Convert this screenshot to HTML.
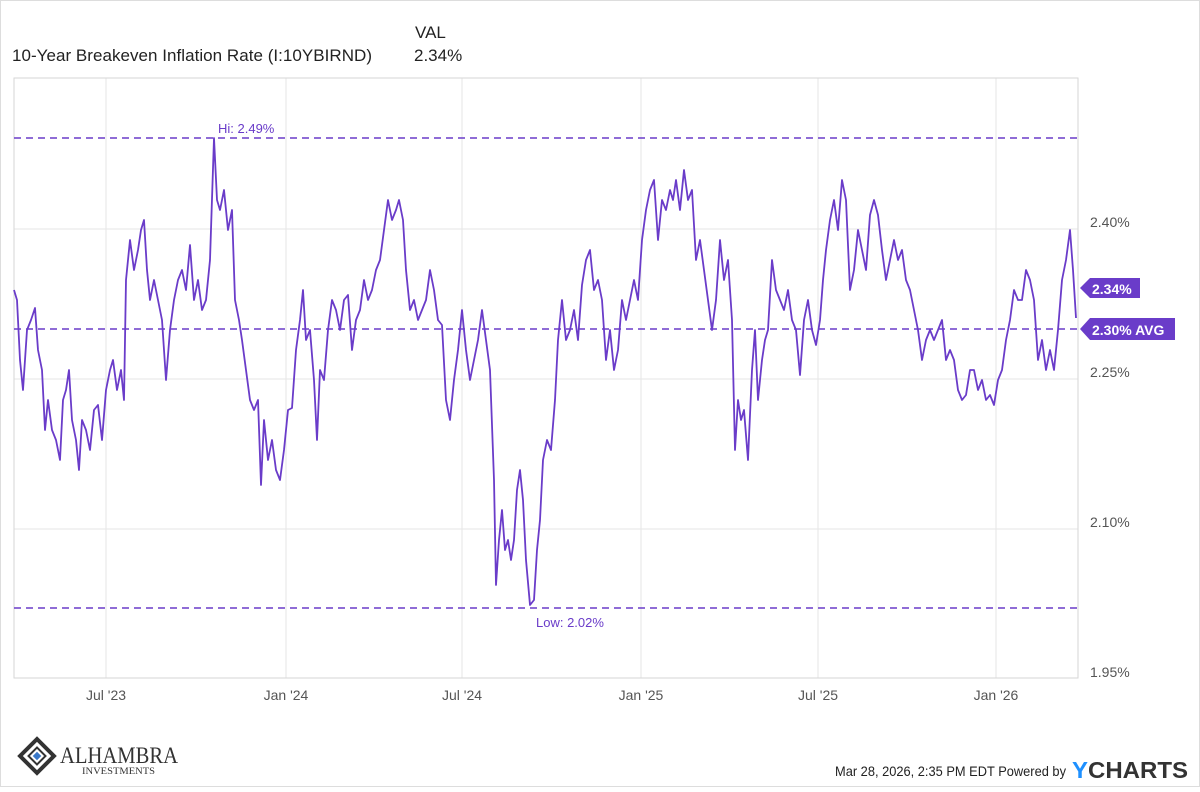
<!DOCTYPE html>
<html><head><meta charset="utf-8"><style>
body{margin:0;width:1200px;height:787px;background:#fff;overflow:hidden;font-family:"Liberation Sans",sans-serif;}
</style></head><body>
<svg width="1200" height="787" xmlns="http://www.w3.org/2000/svg" font-family="Liberation Sans, sans-serif">
<rect x="0.5" y="0.5" width="1199" height="786" fill="#fff" stroke="#ddd"/>
<text x="415" y="38" font-size="17" fill="#222">VAL</text>
<text x="12" y="61" font-size="17" fill="#222" textLength="360">10-Year Breakeven Inflation Rate (I:10YBIRND)</text>
<text x="414" y="61" font-size="17" fill="#222">2.34%</text>
<g stroke="#e6e6e6" stroke-width="1">
<line x1="14" y1="229" x2="1078" y2="229"/><line x1="14" y1="379" x2="1078" y2="379"/><line x1="14" y1="529" x2="1078" y2="529"/>
<line x1="106" y1="78" x2="106" y2="678"/><line x1="286" y1="78" x2="286" y2="678"/><line x1="462" y1="78" x2="462" y2="678"/><line x1="641" y1="78" x2="641" y2="678"/><line x1="818" y1="78" x2="818" y2="678"/><line x1="996" y1="78" x2="996" y2="678"/>
</g>
<rect x="14" y="78" width="1064" height="600" fill="none" stroke="#d6d6d6"/>
<g stroke="#6a3cc9" stroke-width="1.6" stroke-dasharray="7,5">
<line x1="14" y1="138" x2="1078" y2="138"/><line x1="14" y1="608" x2="1078" y2="608"/><line x1="14" y1="329" x2="1078" y2="329"/>
</g>
<text x="218" y="133" font-size="13" fill="#6a3cc9">Hi: 2.49%</text>
<text x="536" y="627" font-size="13" fill="#6a3cc9">Low: 2.02%</text>
<polyline fill="none" stroke="#6a3cc9" stroke-width="1.8" stroke-linejoin="round" points="14,290 17,300 20,360 23,390 27,330 31,320 35,308 38,350 42,370 45,430 48,400 52,430 56,440 60,460 63,400 66,390 69,370 72,420 76,440 79,470 82,420 86,430 90,450 94,410 98,405 102,440 106,390 110,370 113,360 117,390 121,370 124,400 126,280 130,240 134,270 138,250 141,230 144,220 147,270 150,300 154,280 158,300 162,320 166,380 170,330 174,300 178,280 182,270 186,290 190,245 194,300 198,280 202,310 206,300 210,260 214,138 217,200 220,210 224,190 228,230 232,210 235,300 239,320 242,340 246,370 250,400 254,410 258,400 261,485 264,420 268,460 272,440 276,470 280,480 284,450 288,410 292,408 296,350 300,320 303,290 306,340 310,330 314,380 317,440 320,370 324,380 328,330 332,300 336,310 340,330 344,300 348,295 352,350 356,320 360,310 364,280 368,300 372,290 376,270 380,260 384,230 388,200 392,220 396,210 399,200 403,220 406,270 410,310 414,300 418,320 422,310 426,300 430,270 434,290 438,320 442,325 446,400 450,420 454,380 458,350 462,310 466,350 470,380 474,360 478,340 482,310 486,340 490,370 494,480 496,585 499,540 502,510 505,550 508,540 511,560 514,540 517,490 520,470 523,500 526,560 530,605 534,600 537,550 540,520 543,460 547,440 551,450 555,400 558,340 562,300 566,340 570,330 574,310 578,340 582,285 586,260 590,250 594,290 598,280 602,300 606,360 610,330 614,370 618,350 622,300 626,320 630,300 634,280 638,300 642,240 646,210 650,190 654,180 658,240 662,200 666,210 670,190 673,200 676,180 680,210 684,170 688,200 692,190 696,260 700,240 704,270 708,300 712,330 716,300 720,240 724,280 728,260 732,320 735,450 738,400 741,420 744,410 748,460 752,370 755,330 758,400 762,360 765,340 768,330 772,260 776,290 780,300 784,310 788,290 792,320 796,330 800,375 804,320 808,300 812,330 816,345 820,320 823,280 826,250 830,220 834,200 838,230 842,180 846,200 850,290 854,270 858,230 862,250 866,270 870,215 874,200 878,215 882,250 886,280 890,260 894,240 898,260 902,250 906,280 910,290 914,310 918,330 922,360 926,340 930,330 934,340 938,330 942,320 946,360 950,350 954,360 958,390 962,400 966,395 970,370 974,370 978,390 982,380 986,400 990,395 994,405 998,380 1002,370 1006,340 1010,320 1014,290 1018,300 1022,300 1026,270 1030,280 1034,300 1038,360 1042,340 1046,370 1050,350 1054,370 1058,330 1062,280 1066,260 1070,230 1073,270 1076,318"/>
<g font-size="14" fill="#555">
<text x="1090" y="227">2.40%</text><text x="1090" y="377">2.25%</text><text x="1090" y="527">2.10%</text><text x="1090" y="677">1.95%</text>
</g>
<polygon points="1080,288 1090,278 1140,278 1140,298 1090,298" fill="#6a3cc9"/>
<text x="1092" y="294" font-size="14" font-weight="bold" fill="#fff">2.34%</text>
<polygon points="1080,329 1090,318 1175,318 1175,340 1090,340" fill="#6a3cc9"/>
<text x="1092" y="335" font-size="14" font-weight="bold" fill="#fff">2.30% AVG</text>
<g font-size="14" fill="#555" text-anchor="middle">
<text x="106" y="700">Jul '23</text><text x="286" y="700">Jan '24</text><text x="462" y="700">Jul '24</text><text x="641" y="700">Jan '25</text><text x="818" y="700">Jul '25</text><text x="996" y="700">Jan '26</text>
</g>
<g transform="translate(37,756) rotate(45)">
<rect x="-12" y="-12" width="24" height="24" fill="#fff" stroke="#333" stroke-width="4"/>
<rect x="-6" y="-6" width="12" height="12" fill="none" stroke="#333" stroke-width="2"/>
<rect x="-3" y="-3" width="6" height="6" fill="#3a78c8"/>
</g>
<text x="60" y="763" font-family="Liberation Serif, serif" font-size="23" fill="#333" textLength="118" lengthAdjust="spacingAndGlyphs">ALHAMBRA</text>
<text x="82" y="774" font-family="Liberation Serif, serif" font-size="9" fill="#333" textLength="73" lengthAdjust="spacingAndGlyphs">INVESTMENTS</text>
<text x="835" y="776" font-size="14" fill="#222" textLength="231" lengthAdjust="spacingAndGlyphs">Mar 28, 2026, 2:35 PM EDT Powered by</text>
<text x="1072" y="778" font-size="23" font-weight="bold" fill="#333" textLength="116" lengthAdjust="spacingAndGlyphs"><tspan fill="#1e90ff">Y</tspan>CHARTS</text>
</svg>
</body></html>
